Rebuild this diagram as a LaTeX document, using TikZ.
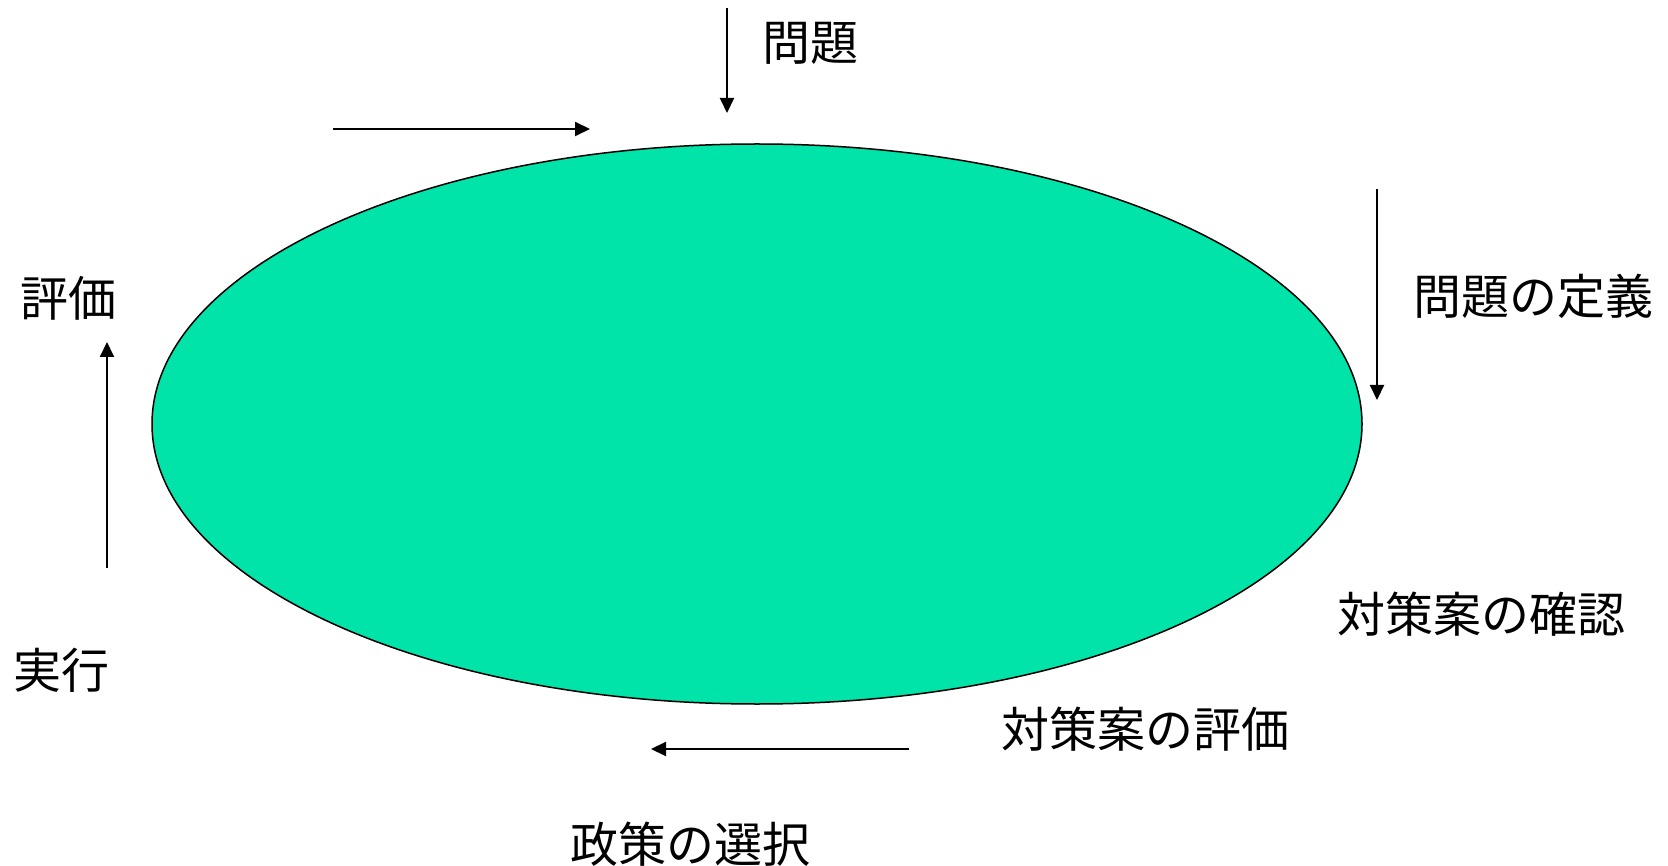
\documentclass[tikz,border=0pt]{standalone}
\usepackage{fontspec}
\setmainfont{Noto Sans CJK JP}
\usetikzlibrary{shapes.geometric,arrows.meta}
\definecolor{blobgreen}{RGB}{0,228,170}
\begin{document}
\begin{tikzpicture}[x=1pt,y=-1pt,
  lbl/.style={inner sep=0pt,font=\fontsize{48}{52}\selectfont},
  arr/.style={line width=2pt,-{Triangle[length=15pt,width=14pt]}}]
\useasboundingbox (0,0) rectangle (1668,866);
\node[ellipse,draw=black,line width=1.5pt,fill=blobgreen,minimum width=1210pt,minimum height=560pt,inner sep=0pt] (oval) at (757,424) {};
\node[lbl] (mondai) at (810,43) {問題};
\node[lbl] (teigi) at (1533,296) {問題の定義};
\node[lbl] (hyoka) at (68,298) {評価};
\node[lbl] (jikko) at (61,670) {実行};
\node[lbl] (kakunin) at (1481,614) {対策案の確認};
\node[lbl] (taisakuhyoka) at (1145,729) {対策案の評価};
\node[lbl] (sentaku) at (690,844) {政策の選択};
\coordinate (a1s) at (727,8);
\coordinate (a1e) at (727,113);
\coordinate (a2s) at (333,129);
\coordinate (a2e) at (590,129);
\coordinate (a3s) at (1377,189);
\coordinate (a3e) at (1377,400);
\coordinate (a4s) at (107,568);
\coordinate (a4e) at (107,342);
\coordinate (a5s) at (909,749);
\coordinate (a5e) at (651,749);
\draw[arr] (a1s) -- (a1e);
\draw[arr] (a2s) -- (a2e);
\draw[arr] (a3s) -- (a3e);
\draw[arr] (a4s) -- (a4e);
\draw[arr] (a5s) -- (a5e);
\end{tikzpicture}
\end{document}
